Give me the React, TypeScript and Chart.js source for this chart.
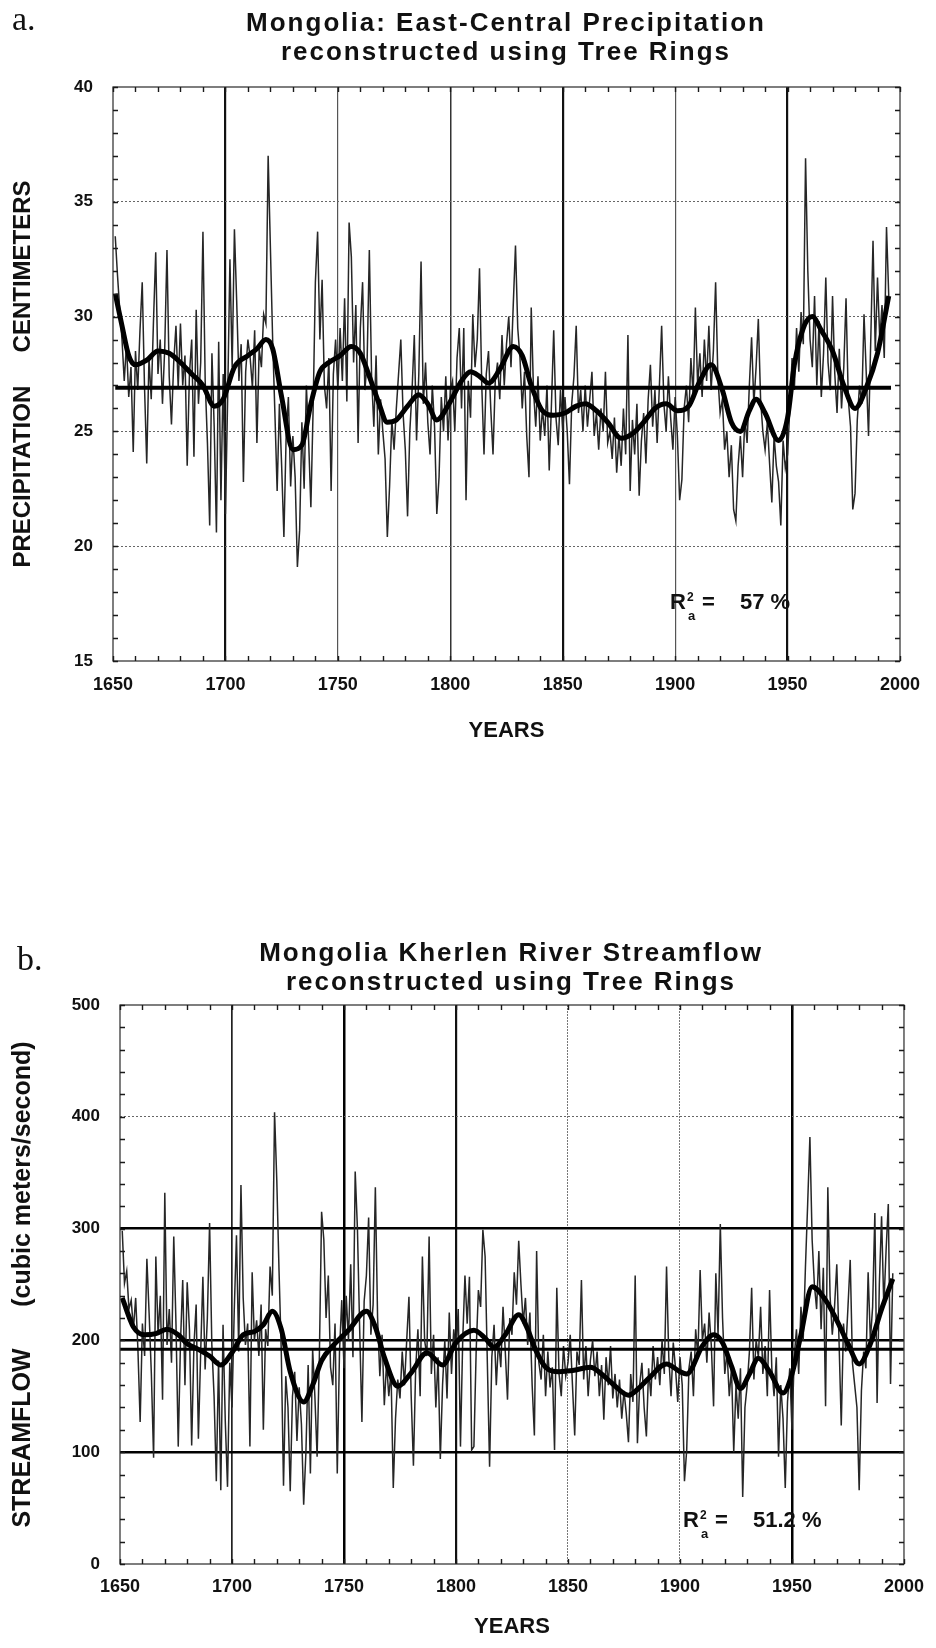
import React, { useEffect, useRef } from "react";
import { Chart, registerables } from "chart.js";

Chart.register(...registerables);

const FONT = "'Liberation Sans', Arial, Helvetica, sans-serif";
const FIRST_YEAR = 1651;

// ---------- (a) East-Central precipitation, cm ----------
const precipAnnual = [
  33.5, 31.8, 30.3, 29.0, 27.2, 28.8, 26.5, 27.8, 24.1, 28.5,
  26.8, 29.4, 31.5, 27.0, 23.6, 28.2, 26.4, 29.8, 32.8, 27.5,
  29.0, 26.2, 28.6, 32.9, 27.4, 25.3, 28.0, 29.6, 26.9, 29.7,
  27.0, 28.3, 23.5, 27.5, 29.0, 23.9, 30.3, 26.2, 28.0, 33.7,
  27.2, 24.5, 20.9, 28.4, 25.2, 20.6, 28.9, 22.0, 27.5, 21.4,
  26.5, 32.5, 27.8, 33.8, 30.7, 27.2, 28.8, 22.8, 27.6, 29.0,
  28.2, 26.9, 29.4, 24.5, 28.6, 27.8, 30.1, 29.7, 37.0, 33.0,
  29.0, 25.8, 22.4, 26.2, 23.5, 20.4, 24.8, 26.5, 22.6, 24.8,
  23.0, 19.1, 20.7, 25.4, 22.5, 27.0, 24.6, 21.7, 26.0, 31.5,
  33.7, 29.0, 31.6, 27.0, 26.0, 28.2, 22.4, 27.5, 29.0, 26.8,
  29.5, 27.2, 30.8, 26.3, 34.1, 32.6, 28.0, 30.5, 24.5, 29.5,
  31.5, 26.8, 28.0, 32.9, 27.4, 25.2, 28.3, 24.0, 26.4, 25.0,
  23.8, 20.4, 22.6, 25.5, 24.2, 26.0, 27.5, 29.0, 25.8, 24.2,
  21.3, 25.0, 26.8, 29.2, 24.6, 27.5, 32.4, 26.2, 28.0, 25.4,
  24.0, 27.0, 25.2, 21.4, 23.0, 26.5, 25.0, 27.4, 24.6, 26.8,
  27.2, 25.0, 28.2, 29.5, 26.0, 29.5, 22.0, 27.2, 25.6, 30.1,
  27.8, 29.0, 32.1, 27.0, 24.0, 27.5, 28.5, 26.0, 24.0, 27.2,
  28.0, 26.4, 29.2, 27.0, 28.8, 30.0, 27.8, 30.5, 33.1, 29.5,
  28.2, 26.0, 27.6, 24.8, 23.0, 30.4, 26.8, 25.2, 27.4, 24.6,
  26.0, 24.8, 27.0, 23.3, 26.2, 29.4, 25.6, 24.4, 26.8, 25.0,
  26.5, 25.0, 22.7, 26.2, 27.4, 29.6, 25.8, 26.8, 25.0, 27.0,
  25.2, 26.4, 27.6, 24.8, 25.8, 24.2, 26.0, 25.0, 27.6, 24.5,
  25.0, 23.8, 25.6, 23.2, 24.8, 23.5, 26.0, 24.0, 29.2, 22.4,
  25.5, 24.0, 26.2, 22.2, 24.6, 25.8, 23.6, 26.4, 27.9, 25.2,
  26.8, 24.5, 27.0, 29.6, 26.2, 25.0, 27.4, 25.6, 24.2, 26.5,
  24.8, 22.0, 22.9, 26.0, 27.0, 25.4, 28.2, 26.6, 30.4, 27.0,
  28.4, 26.5, 29.0, 27.2, 29.6, 26.8, 28.5, 31.5, 27.4, 25.8,
  26.4, 24.2, 25.0, 23.0, 24.4, 21.6, 21.1, 23.5, 24.8, 23.0,
  25.6, 24.5, 27.0, 29.1, 26.2, 27.8, 29.9, 26.4, 25.0, 24.2,
  25.4, 23.6, 21.9, 24.8, 23.5, 22.8, 20.9, 24.6, 23.4, 24.0,
  26.0, 28.2, 26.8, 29.5, 27.6, 30.2, 28.8, 36.9, 32.0, 29.0,
  27.8, 30.9, 27.0, 29.8, 26.5, 28.4, 31.7, 28.0, 26.8, 30.9,
  27.5, 25.8, 28.6, 26.0, 27.8, 30.8, 26.4, 25.2, 21.6, 22.3,
  25.5, 27.0, 26.2, 30.1, 27.5, 24.8, 29.0, 33.3, 28.5, 31.7,
  29.0, 30.5, 28.2, 33.9, 30.9,
];
const precipSmoothYears = [
  1651, 1654, 1657, 1660, 1665, 1670, 1675, 1680, 1685, 1690, 1695, 1699, 1704, 1710,
  1714, 1718, 1721, 1725, 1730, 1734, 1738, 1742, 1746, 1751, 1756, 1760, 1764, 1768,
  1772, 1776, 1781, 1786, 1790, 1794, 1800, 1805, 1809, 1813, 1817, 1822, 1828, 1832,
  1836, 1841, 1846, 1851, 1856, 1860, 1865, 1870, 1876, 1881, 1886, 1891, 1896, 1901,
  1906, 1911, 1916, 1921, 1925, 1929, 1933, 1936, 1940, 1946, 1950, 1953, 1957, 1961,
  1965, 1970, 1975, 1980, 1985, 1990, 1995,
];
const precipSmoothValues = [
  31.0, 29.6, 28.3, 27.9, 28.1, 28.5, 28.4, 28.0, 27.5, 27.0, 26.1, 26.4, 27.8, 28.3,
  28.6, 29.0, 28.6, 26.5, 24.2, 24.4, 26.2, 27.6, 28.0, 28.3, 28.7, 28.4, 27.4, 26.3,
  25.4, 25.5, 26.1, 26.6, 26.2, 25.5, 26.3, 27.2, 27.6, 27.4, 27.1, 27.7, 28.7, 28.3,
  27.0, 25.9, 25.7, 25.8, 26.1, 26.2, 25.9, 25.4, 24.7, 24.9, 25.4, 26.0, 26.2, 25.9,
  26.1, 27.2, 27.9, 26.8, 25.4, 25.0, 25.9, 26.4, 25.8, 24.6, 25.6, 27.9, 29.5, 30.0,
  29.4, 28.5, 27.0, 26.0, 26.9, 28.4, 30.9,
];
const precipMean = 26.9;
const precipMeanSpan = [1651, 1996];

// ---------- (b) Kherlen River streamflow, m3/s ----------
const flowAnnual = [
  298, 251, 262, 228, 236, 210, 238, 192, 127, 215,
  186, 273, 224, 170, 95, 275, 205, 240, 147, 332,
  196, 228, 180, 293, 214, 105, 198, 254, 160, 252,
  210, 106, 195, 232, 112, 188, 257, 174, 220, 305,
  196, 150, 74, 182, 66, 214, 128, 69, 180, 140,
  226, 294, 190, 339, 238, 196, 215, 105, 261, 200,
  218, 186, 232, 120, 210, 195, 266, 240, 404, 343,
  262, 190, 70, 168, 140, 65, 150, 172, 110, 158,
  125, 53, 100, 178, 81, 192, 150, 96, 185, 315,
  290, 220, 258, 176, 160, 215, 81, 190, 236, 175,
  240, 200, 268, 185, 351, 300, 210, 127, 235, 258,
  310, 205, 232, 337, 220, 168, 205, 142, 180, 150,
  172, 68, 130, 165, 148, 190, 160, 200, 239, 150,
  88, 175, 210, 150, 275, 200, 186, 293, 170, 205,
  140, 185, 94, 160, 200, 148, 225, 170, 210, 190,
  228, 105, 200, 258, 215, 257, 102, 105, 190, 245,
  230, 299, 275, 180, 87, 185, 214, 160, 200, 176,
  230, 190, 147, 220, 205, 261, 232, 289, 250, 215,
  238, 196, 225, 160, 115, 280, 180, 165, 205, 150,
  190, 158, 176, 102, 247, 170, 150, 195, 168, 180,
  205, 160, 115, 190, 178, 254, 165, 195, 150, 182,
  200, 168, 190, 150, 178, 129, 185, 160, 195, 148,
  170, 140, 165, 130, 155, 135, 109, 170, 145, 258,
  108, 160, 180, 140, 114, 175, 150, 195, 165, 185,
  160, 200, 170, 266, 185, 150, 198, 175, 145, 185,
  160, 74, 102, 175, 190, 150, 210, 185, 263, 200,
  215, 180, 225, 195, 141, 260, 205, 304, 220, 170,
  190, 150, 175, 100, 160, 130, 175, 60, 140, 160,
  190, 247, 165, 200, 185, 230, 170, 195, 150, 245,
  175, 150, 185, 96, 160, 130, 68, 145, 175, 120,
  185, 210, 170, 230, 200, 265, 322, 382, 290, 250,
  228, 280, 210, 265, 141, 337, 240, 205, 230, 268,
  200, 124, 215, 190, 230, 272, 180, 160, 140, 66,
  155, 190, 175, 261, 200, 230, 314, 144, 250, 311,
  230, 280, 322, 161, 260,
];
const flowSmoothYears = [
  1651, 1656, 1661, 1666, 1671, 1676, 1680, 1685, 1690, 1695, 1700, 1705, 1710, 1714,
  1718, 1722, 1726, 1732, 1736, 1740, 1745, 1752, 1760, 1764, 1768, 1774, 1780, 1787,
  1794, 1800, 1808, 1813, 1817, 1822, 1828, 1832, 1835, 1840, 1846, 1852, 1860, 1865,
  1870, 1877, 1882, 1886, 1894, 1900, 1903, 1910, 1915, 1919, 1923, 1927, 1931, 1935,
  1940, 1946, 1950, 1954, 1959, 1965, 1970, 1975, 1980, 1985, 1990, 1995,
];
const flowSmoothValues = [
  238, 212, 205, 206, 210, 205, 197, 192, 186, 178, 189, 205, 208, 214,
  226, 210, 172, 145, 160, 182, 195, 209, 226, 212, 185, 159, 171, 189,
  178, 198, 209, 202, 194, 205, 223, 210, 194, 176, 172, 173, 176, 170,
  161, 151, 158, 166, 179, 172, 170, 195, 205, 198, 177, 157, 170, 184,
  172, 153, 170, 205, 248, 236, 218, 197, 179, 197, 228, 255,
];
const flowMean = 192;
const flowMeanSpan = [1650, 2000];

const xTickValues = [1650, 1700, 1750, 1800, 1850, 1900, 1950, 2000];

type LineStyle = { color: string; width: number; dash: number[] };

const framePlugin = {
  id: "frame",
  afterDatasetsDraw(chart: any, _args: any, opts: any) {
    const { ctx, chartArea, scales } = chart;
    const { left, right, top, bottom } = chartArea;
    const x = scales.x;
    const y = scales.y;
    ctx.save();
    ctx.strokeStyle = "#3a3a3a";
    ctx.lineWidth = 1.3;
    ctx.setLineDash([]);
    ctx.strokeRect(left, top, right - left, bottom - top);
    ctx.strokeStyle = "#1a1a1a";
    ctx.lineWidth = 1.4;
    const len = 5;
    for (let v = x.min; v <= x.max + 1e-6; v += opts.xMinor) {
      const px = Math.round(x.getPixelForValue(v)) + 0.5;
      ctx.beginPath();
      ctx.moveTo(px, top);
      ctx.lineTo(px, top + len);
      ctx.moveTo(px, bottom);
      ctx.lineTo(px, bottom - len);
      ctx.stroke();
    }
    for (let v = y.min; v <= y.max + 1e-6; v += opts.yMinor) {
      const py = Math.round(y.getPixelForValue(v)) + 0.5;
      ctx.beginPath();
      ctx.moveTo(left, py);
      ctx.lineTo(left + len, py);
      ctx.moveTo(right, py);
      ctx.lineTo(right - len, py);
      ctx.stroke();
    }
    ctx.restore();
  },
};

type Params = {
  annual: number[];
  smoothYears: number[];
  smoothValues: number[];
  mean: number;
  meanSpan: number[];
  meanWidth: number;
  yMin: number;
  yMax: number;
  yStep: number;
  yMinor: number;
  yTitle: string;
  yTitleSize: number;
  yTitlePad: number;
  padTop: number;
  padRight: number;
  yAxisWidth: number;
  xAxisHeight: number;
  xTickPad: number;
  xTitlePadBottom: number;
  xGrid: (v: number) => LineStyle;
  yGrid: (v: number) => LineStyle;
};

function buildConfig(p: Params): any {
  const annualPts = p.annual.map((v, i) => ({ x: FIRST_YEAR + i, y: v }));
  const smoothPts = p.smoothYears.map((yr, i) => ({ x: yr, y: p.smoothValues[i] }));
  const meanPts = p.meanSpan.map((yr) => ({ x: yr, y: p.mean }));
  return {
    type: "line",
    data: {
      datasets: [
        {
          label: "Annual reconstruction",
          data: annualPts,
          borderColor: "#262626",
          borderWidth: 1.5,
          pointRadius: 0,
          tension: 0,
          order: 3,
        },
        {
          label: "Smoothed",
          data: smoothPts,
          borderColor: "#000",
          borderWidth: 5,
          pointRadius: 0,
          cubicInterpolationMode: "monotone",
          order: 2,
        },
        {
          label: "Mean",
          data: meanPts,
          borderColor: "#000",
          borderWidth: p.meanWidth,
          pointRadius: 0,
          order: 1,
        },
      ],
    },
    options: {
      responsive: false,
      animation: false,
      devicePixelRatio: 1,
      layout: { padding: { top: p.padTop, right: p.padRight, left: 0, bottom: 0 } },
      plugins: {
        legend: { display: false },
        tooltip: { enabled: false },
        title: { display: false },
        frame: { xMinor: 10, yMinor: p.yMinor },
      },
      scales: {
        x: {
          type: "linear",
          min: 1650,
          max: 2000,
          afterFit: (s: any) => {
            s.height = p.xAxisHeight;
          },
          afterBuildTicks: (s: any) => {
            s.ticks = xTickValues.map((v) => ({ value: v }));
          },
          ticks: {
            callback: (v: any) => String(v),
            autoSkip: false,
            maxRotation: 0,
            padding: p.xTickPad,
            color: "#111",
            font: { family: FONT, size: 18, weight: "bold" },
          },
          grid: {
            drawTicks: false,
            color: (c: any) => p.xGrid(c.tick ? c.tick.value : 0).color,
            lineWidth: (c: any) => p.xGrid(c.tick ? c.tick.value : 0).width,
          },
          border: {
            display: false,
            dash: (c: any) => p.xGrid(c.tick ? c.tick.value : 0).dash,
          },
          title: {
            display: true,
            text: "YEARS",
            color: "#111",
            font: { family: FONT, size: 22, weight: "bold" },
            padding: { top: 0, bottom: p.xTitlePadBottom },
          },
        },
        y: {
          type: "linear",
          min: p.yMin,
          max: p.yMax,
          afterFit: (s: any) => {
            s.width = p.yAxisWidth;
          },
          ticks: {
            stepSize: p.yStep,
            callback: (v: any) => String(v),
            padding: 20,
            color: "#111",
            font: { family: FONT, size: 17, weight: "bold" },
          },
          grid: {
            drawTicks: false,
            color: (c: any) => p.yGrid(c.tick ? c.tick.value : 0).color,
            lineWidth: (c: any) => p.yGrid(c.tick ? c.tick.value : 0).width,
          },
          border: {
            display: false,
            dash: (c: any) => p.yGrid(c.tick ? c.tick.value : 0).dash,
          },
          title: {
            display: true,
            text: p.yTitle,
            color: "#111",
            font: { family: FONT, size: p.yTitleSize, weight: "bold" },
            padding: { top: p.yTitlePad, bottom: 0 },
          },
        },
      },
    },
    plugins: [framePlugin],
  };
}

const NONE: LineStyle = { color: "rgba(0,0,0,0)", width: 0, dash: [] };

const precipParams: Params = {
  annual: precipAnnual,
  smoothYears: precipSmoothYears,
  smoothValues: precipSmoothValues,
  mean: precipMean,
  meanSpan: precipMeanSpan,
  meanWidth: 4,
  yMin: 15,
  yMax: 40,
  yStep: 5,
  yMinor: 1,
  yTitle: "PRECIPITATION     CENTIMETERS",
  yTitleSize: 24,
  yTitlePad: 8.6,
  padTop: 87,
  padRight: 36,
  yAxisWidth: 113,
  xAxisHeight: 99,
  xTickPad: 13,
  xTitlePadBottom: 16,
  xGrid: (v) => {
    if (v === 1650 || v === 2000) return NONE;
    if (v === 1700 || v === 1850 || v === 1950) return { color: "#111", width: 2.2, dash: [] };
    if (v === 1800) return { color: "#333", width: 1.5, dash: [] };
    return { color: "#555", width: 1.2, dash: [] };
  },
  yGrid: (v) => {
    if (v === 15 || v === 40) return NONE;
    return { color: "#666", width: 1, dash: [2, 2] };
  },
};

const flowParams: Params = {
  annual: flowAnnual,
  smoothYears: flowSmoothYears,
  smoothValues: flowSmoothValues,
  mean: flowMean,
  meanSpan: flowMeanSpan,
  meanWidth: 3,
  yMin: 0,
  yMax: 500,
  yStep: 100,
  yMinor: 20,
  yTitle: "STREAMFLOW      (cubic meters/second)",
  yTitleSize: 25,
  yTitlePad: 8,
  padTop: 125,
  padRight: 27,
  yAxisWidth: 120,
  xAxisHeight: 84,
  xTickPad: 12,
  xTitlePadBottom: 8,
  xGrid: (v) => {
    if (v === 1650 || v === 2000) return NONE;
    if (v === 1750 || v === 1950) return { color: "#000", width: 2.5, dash: [] };
    if (v === 1800) return { color: "#111", width: 2.2, dash: [] };
    if (v === 1700) return { color: "#222", width: 1.7, dash: [] };
    return { color: "#777", width: 1, dash: [2, 1] };
  },
  yGrid: (v) => {
    if (v === 0 || v === 500) return NONE;
    if (v === 400) return { color: "#666", width: 1, dash: [2, 2] };
    return { color: "#000", width: 2.4, dash: [] };
  },
};

const abs = (extra: React.CSSProperties): React.CSSProperties => ({
  position: "absolute",
  margin: 0,
  whiteSpace: "pre",
  color: "#111",
  ...extra,
});

function RSquared({ left, baseline, value }: { left: number; baseline: number; value: string }) {
  const base: React.CSSProperties = { fontFamily: FONT, lineHeight: 1, fontWeight: "bold" };
  return (
    <>
      <div style={abs({ ...base, left, top: baseline - 18.6, fontSize: 22 })}>R</div>
      <div style={abs({ ...base, left: left + 17, top: baseline - 19.4, fontSize: 12 })}>2</div>
      <div style={abs({ ...base, left: left + 18, top: baseline - 1.5, fontSize: 13 })}>a</div>
      <div style={abs({ ...base, left: left + 32, top: baseline - 18.6, fontSize: 22 })}>=</div>
      <div style={abs({ ...base, left: left + 70, top: baseline - 18.6, fontSize: 22 })}>{value}</div>
    </>
  );
}

export default function App() {
  const refA = useRef<HTMLCanvasElement | null>(null);
  const refB = useRef<HTMLCanvasElement | null>(null);

  useEffect(() => {
    if (!refA.current || !refB.current) return;
    const a = new Chart(refA.current, buildConfig(precipParams));
    const b = new Chart(refB.current, buildConfig(flowParams));
    return () => {
      a.destroy();
      b.destroy();
    };
  }, []);

  const titleStyle = (top: number, center: number): React.CSSProperties =>
    abs({
      top,
      left: center - 320,
      width: 640,
      textAlign: "center",
      fontFamily: FONT,
      fontWeight: "bold",
      fontSize: 26,
      lineHeight: "29px",
      letterSpacing: "2px",
    });

  return (
    <div
      style={{
        position: "absolute",
        left: 0,
        top: 0,
        width: 936,
        height: 1648,
        background: "#fff",
        overflow: "hidden",
      }}
    >
      <canvas ref={refA} width={936} height={760} style={{ position: "absolute", left: 0, top: 0, width: 936, height: 760 }} />
      <canvas ref={refB} width={936} height={768} style={{ position: "absolute", left: 0, top: 880, width: 936, height: 768 }} />

      <div style={abs({ left: 12, top: 1.5, fontFamily: "'Liberation Serif', 'Times New Roman', serif", fontSize: 34, lineHeight: 1 })}>a.</div>
      <div style={titleStyle(7.5, 506)}>
        {"Mongolia: East-Central Precipitation\nreconstructed using Tree Rings"}
      </div>
      <RSquared left={670} baseline={610} value={"57 %"} />

      <div style={abs({ left: 17, top: 942, fontFamily: "'Liberation Serif', 'Times New Roman', serif", fontSize: 34, lineHeight: 1 })}>b.</div>
      <div style={titleStyle(937.5, 511)}>
        {"Mongolia Kherlen River Streamflow\nreconstructed using Tree Rings"}
      </div>
      <RSquared left={683} baseline={1528} value={"51.2 %"} />
    </div>
  );
}
